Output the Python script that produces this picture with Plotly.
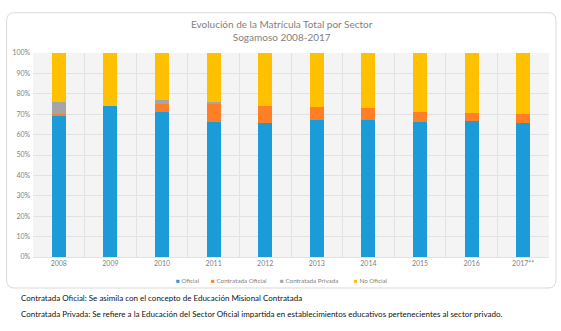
import plotly.graph_objects as go

years = ["2008", "2009", "2010", "2011", "2012", "2013", "2014", "2015", "2016", "2017**"]
oficial = [69.0, 74.2, 71.3, 66.1, 65.6, 67.4, 67.4, 66.2, 66.6, 65.9]
contratada_oficial = [1.0, 0.0, 3.9, 9.1, 8.3, 6.2, 5.5, 4.9, 3.9, 4.2]
contratada_privada = [5.9, 0.0, 1.6, 0.8, 0.0, 0.0, 0.0, 0.0, 0.0, 0.0]
no_oficial = [24.1, 25.8, 23.2, 24.0, 26.1, 26.4, 27.1, 28.9, 29.5, 29.9]

series_names = ["Oficial", "Contratada Oficial", "Contratada Privada", "No Oficial"]
series_values = [oficial, contratada_oficial, contratada_privada, no_oficial]
colors = ["#1B9BD7", "#FF7F27", "#A5A5A5", "#FFC000"]

title_lines = ["Evolución de la Matrícula Total por Sector", "Sogamoso 2008-2017"]
notes = [
    "Contratada Oficial: Se asimila con el concepto de Educación Misional Contratada",
    "Contratada Privada: Se refiere a la Educación del Sector Oficial impartida en establecimientos educativos pertenecientes al sector privado.",
]

W, H = 561, 331
L, R, T, B = 31, 12, 53, 74
pw = W - L - R
ph = H - T - B


def px(x):
    return (x - L) / pw


def py(y):
    return (H - B - y) / ph


fig = go.Figure()
for name, vals, col in zip(series_names, series_values, colors):
    fig.add_trace(go.Bar(
        x=years, y=[v / 100 for v in vals], name=name,
        marker=dict(color=col, line=dict(width=0)),
        width=0.27, showlegend=False,
    ))

font = "Lato, 'Open Sans', sans-serif"

# chart box with rounded corners
x0, x1, y0, y1 = px(4.5), px(556), py(288), py(12.7)
rx, ry = 8 / pw, 8 / ph
path = (f"M{x0+rx},{y1} L{x1-rx},{y1} Q{x1},{y1} {x1},{y1-ry} L{x1},{y0+ry} "
        f"Q{x1},{y0} {x1-rx},{y0} L{x0+rx},{y0} Q{x0},{y0} {x0},{y0+ry} "
        f"L{x0},{y1-ry} Q{x0},{y1} {x0+rx},{y1} Z")
fig.add_shape(type="path", path=path, xref="paper", yref="paper",
              line=dict(color="#D9D9D9", width=1), fillcolor="rgba(0,0,0,0)", layer="below")

annotations = []
annotations.append(dict(
    text="<br>".join(title_lines), x=px(280.5), y=py(30.5), xref="paper", yref="paper",
    showarrow=False, xanchor="center", yanchor="middle",
    font=dict(family=font, size=10, color="#7F7F7F"), align="center"))

# legend (manual, small square markers)
leg_x = [175.7, 210.7, 280.0, 354.0]
for name, col, lx in zip(series_names, colors, leg_x):
    annotations.append(dict(
        text=f"<span style='color:{col}'>■</span> {name}", x=px(lx - 3), y=py(280.3),
        xref="paper", yref="paper", showarrow=False, xanchor="left", yanchor="middle",
        font=dict(family=font, size=6.3, color="#7F7F7F")))

for i, note in enumerate(notes):
    annotations.append(dict(
        text=note, x=px(16.5), y=py(298.3 + 16 * i), xref="paper", yref="paper",
        showarrow=False, xanchor="left", yanchor="middle",
        font=dict(family=font, size=8, color="#111111")))

fig.update_layout(
    width=W, height=H, margin=dict(l=L, r=R, t=T, b=B, pad=0),
    barmode="stack", bargap=0.73,
    paper_bgcolor="white", plot_bgcolor="#F4F4F4",
    font=dict(family=font),
    annotations=annotations,
    xaxis=dict(type="category", tickson="boundaries", showgrid=True, gridcolor="#E2E2E2",
               gridwidth=1, ticks="", tickfont=dict(size=7, color="#7F7F7F"),
               showline=True, linecolor="#E2E2E2", range=[-0.5, 9.5]),
    yaxis=dict(range=[0, 1], tickformat=".0%", dtick=0.1, showgrid=True, gridcolor="#E2E2E2",
               ticks="", tickfont=dict(size=7, color="#7F7F7F"), zeroline=False,
               ticksuffix=" "),
)

fig.write_html("out.html")
